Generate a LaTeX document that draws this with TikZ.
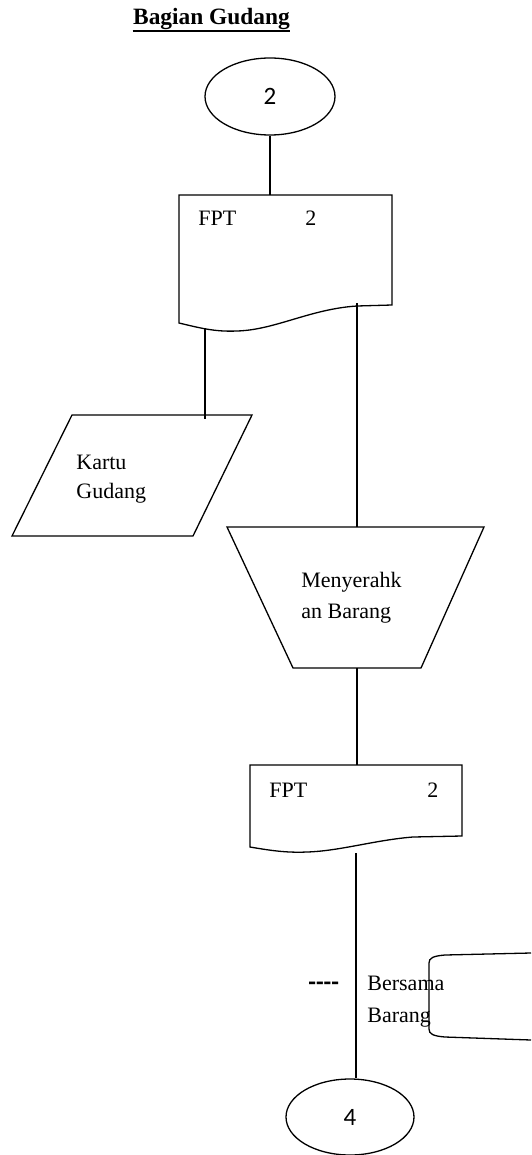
\documentclass[tikz,border=0pt]{standalone}
\usepackage{fontspec}
\setmainfont{Liberation Serif}
\newfontfamily\calibrifont{Carlito}
\usetikzlibrary{shapes.geometric}
\tikzset{
  shapeline/.style={draw=black, line width=0.65pt},
  conn/.style={draw=black, line width=0.95pt},
  conncircle/.style={draw=black, line width=0.65pt, ellipse, inner sep=0pt, font=\calibrifont\fontsize{12.5}{14}\selectfont},
  lbl/.style={anchor=base west, inner sep=0pt, font=\fontsize{11}{13}\selectfont},
}
\begin{document}
\begin{tikzpicture}[x=0.5pt,y=-0.5pt]
\useasboundingbox (0,0) rectangle (531,1155);

% title
\node[anchor=base, inner sep=0pt, font=\bfseries\fontsize{11.7}{13}\selectfont] (title) at (211.5,25) {Bagian Gudang};
\draw[line width=0.8pt] ([yshift=-3pt]title.base west) -- ([yshift=-3pt]title.base east);

% top connector
\node[conncircle, minimum width=65pt, minimum height=38.5pt] (c2) at (270,96.5) {2};

% document 1
\path[shapeline] (179,195) -- (392,195) -- (392,305) -- (357,306)
  .. controls (310,309) and (275,330) .. (237,331)
  .. controls (215,332) and (200,328) .. (179,323) -- cycle;
\coordinate (d1top) at (270,195);
\coordinate (d1left) at (205,328);
\coordinate (d1right) at (357,303);
\node[lbl] (d1a) at (198,226) {FPT};
\node[lbl] (d1b) at (305,226) {2};

% parallelogram
\path[shapeline] (72,415) -- (252,415) -- (193,536) -- (12,536) -- cycle;
\coordinate (pgtop) at (205,419);
\node[lbl] (k1) at (76,469) {Kartu};
\node[lbl] (k2) at (76,498) {Gudang};

% trapezoid (manual operation)
\path[shapeline] (227,527) -- (484,527) -- (421,668) -- (293,668) -- cycle;
\coordinate (trtop) at (357,527);
\coordinate (trbot) at (357,668);
\node[lbl] (m1) at (301,587) {Menyerahk};
\node[lbl] (m2) at (301,618) {an Barang};

% document 2
\path[shapeline] (250,765) -- (462,765) -- (462,836) -- (413,837)
  .. controls (375,840) and (340,851) .. (307,852)
  .. controls (285,853) and (268,850) .. (250,847) -- cycle;
\coordinate (d2top) at (357,765);
\coordinate (d2bot) at (356,853);
\node[lbl] (d2a) at (269,797) {FPT};
\node[lbl] (d2b) at (427,797) {2};

% annotation
\node[anchor=base west, inner sep=0pt, font=\calibrifont\bfseries\fontsize{12.5}{14}\selectfont] (dash) at (308,990) {----};
\node[lbl] (b1) at (367,990) {Bersama};
\node[lbl] (b2) at (367,1022) {Barang};
\path[shapeline] (531,953) -- (445,955)
  .. controls (433,956) and (429,958) .. (429,963) -- (429,1029)
  .. controls (429,1034) and (433,1036) .. (445,1037) -- (531,1040);

% bottom connector
\node[conncircle, minimum width=64pt, minimum height=38pt] (c4) at (350,1117) {4};

% connectors
\draw[conn] (c2.south) -- (d1top);
\draw[conn] (d1left) -- (pgtop);
\draw[conn] (d1right) -- (trtop);
\draw[conn] (trbot) -- (d2top);
\draw[conn] (d2bot) -- (d2bot |- c4.north);
\end{tikzpicture}
\end{document}
